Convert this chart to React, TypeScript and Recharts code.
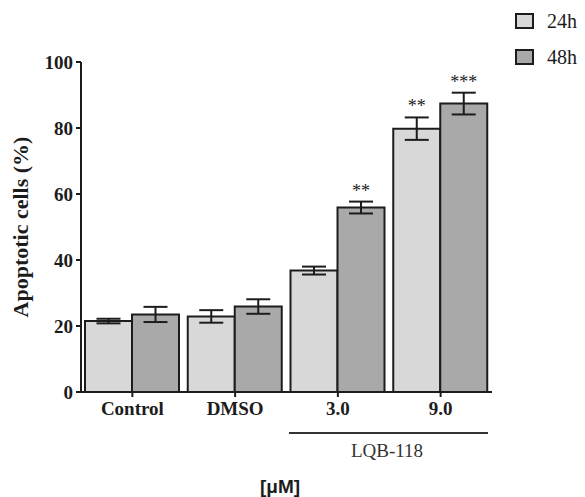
import { BarChart, Bar, XAxis, YAxis, ErrorBar, LabelList } from "recharts";

const categories = ["Control", "DMSO", "3.0", "9.0"];
const h24 = [21.5, 22.9, 36.8, 79.8];
const h48 = [23.5, 25.9, 55.9, 87.4];
const err24 = [0.7, 1.9, 1.2, 3.4];
const err48 = [2.3, 2.2, 1.8, 3.3];
const sig24 = ["", "", "", "**"];
const sig48 = ["", "", "**", "***"];
const yTicks = [0, 20, 40, 60, 80, 100];

const data = categories.map((c, i) => ({
  name: c,
  h24: h24[i],
  h48: h48[i],
  err24: err24[i],
  err48: err48[i],
  sig24: sig24[i],
  sig48: sig48[i],
}));

const light = "#d8d8d8";
const dark = "#a9a9a9";
const ink = "#1c1c1c";
const serif = "'Liberation Serif', 'DejaVu Serif', serif";

// star text sits just above the error bar cap
const starLabel = (vals: number[], errs: number[]) => (props: any) => {
  const { x, y, width, height, value, index } = props;
  if (!value) return null;
  const perUnit = height / vals[index];
  const top = y - errs[index] * perUnit;
  return (
    <text
      x={x + width / 2}
      y={top - 5}
      textAnchor="middle"
      fontFamily={serif}
      fontSize={18}
      fill={ink}
    >
      {value}
    </text>
  );
};

const series = [
  ["24h", light],
  ["48h", dark],
];

export default function App() {
  return (
    <div
      style={{
        position: "absolute",
        left: 0,
        top: 0,
        width: 585,
        height: 497,
        background: "#fff",
      }}
    >
      <BarChart
        width={585}
        height={497}
        data={data}
        margin={{ top: 62, right: 93, left: 0, bottom: 75 }}
        barCategoryGap={4}
        barGap={0}
      >
        <XAxis
          dataKey="name"
          height={30}
          stroke={ink}
          strokeWidth={2}
          tickSize={5}
          tickMargin={5}
          tick={{ fill: ink, fontFamily: serif, fontWeight: "bold", fontSize: 19 }}
        />
        <YAxis
          width={81}
          domain={[0, 100]}
          ticks={yTicks}
          stroke={ink}
          strokeWidth={2}
          tickSize={5}
          tickMargin={3}
          tick={{ fill: ink, fontFamily: serif, fontWeight: "bold", fontSize: 19 }}
          label={{
            value: "Apoptotic cells (%)",
            angle: -90,
            position: "insideLeft",
            offset: 20,
            style: {
              fill: ink,
              fontFamily: serif,
              fontWeight: "bold",
              fontSize: 22,
              textAnchor: "middle",
            },
          }}
        />
        <Bar
          dataKey="h24"
          name="24h"
          fill={light}
          stroke={ink}
          strokeWidth={2}
          isAnimationActive={false}
        >
          <ErrorBar dataKey="err24" width={12} stroke={ink} strokeWidth={2} />
          <LabelList dataKey="sig24" content={starLabel(h24, err24)} />
        </Bar>
        <Bar
          dataKey="h48"
          name="48h"
          fill={dark}
          stroke={ink}
          strokeWidth={2}
          isAnimationActive={false}
        >
          <ErrorBar dataKey="err48" width={12} stroke={ink} strokeWidth={2} />
          <LabelList dataKey="sig48" content={starLabel(h48, err48)} />
        </Bar>
      </BarChart>

      <div
        style={{
          position: "absolute",
          left: 515,
          top: 3,
          fontFamily: serif,
          fontSize: 20,
          color: ink,
        }}
      >
        {series.map(([label, fill]) => (
          <div
            key={label}
            style={{ display: "flex", alignItems: "center", height: 36 }}
          >
            <span
              style={{
                display: "inline-block",
                width: 15,
                height: 12,
                background: fill,
                border: `2px solid ${ink}`,
                marginRight: 13,
              }}
            />
            {label}
          </div>
        ))}
      </div>

      <svg
        width={585}
        height={497}
        style={{ position: "absolute", left: 0, top: 0, pointerEvents: "none" }}
      >
        <line x1={289} x2={488} y1={433} y2={433} stroke="#333" strokeWidth={2} />
        <text
          x={387}
          y={457}
          textAnchor="middle"
          fontFamily={serif}
          fontSize={19}
          fill="#333"
        >
          LQB-118
        </text>
        <text
          x={280}
          y={493}
          textAnchor="middle"
          fontFamily="'Liberation Sans', Arial, sans-serif"
          fontWeight="bold"
          fontSize={19}
          fill={ink}
        >
          [μM]
        </text>
      </svg>
    </div>
  );
}
